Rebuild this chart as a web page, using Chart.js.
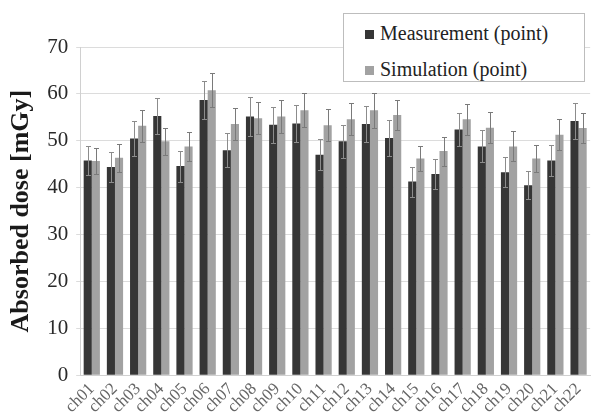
<!DOCTYPE html>
<html>
<head>
<meta charset="utf-8">
<script src="https://cdn.jsdelivr.net/npm/chart.js@4"></script>
<style>
  html, body { margin: 0; padding: 0; background: #fff; }
  #wrap { position: relative; width: 593px; height: 417px; }
  #legend {
    position: absolute; left: 343px; top: 13px; width: 242px; height: 69px;
    border: 1px solid #bdbdbd; background: #fff; box-sizing: border-box;
    font-family: "Liberation Serif", serif; font-size: 20px; color: #222;
  }
  .item { position: absolute; left: 21px; height: 24px; line-height: 24px; white-space: nowrap; }
  .sw { display: inline-block; width: 9px; height: 9px; margin-right: 6px; vertical-align: 1px; }
</style>
</head>
<body>
<div id="wrap">
  <canvas id="c" width="593" height="417"></canvas>
  <div id="legend">
    <div class="item" style="top:7px"><span class="sw" style="background:#363636"></span>Measurement (point)</div>
    <div class="item" style="top:43px"><span class="sw" style="background:#a2a2a2"></span>Simulation (point)</div>
  </div>
</div>
<script>
const categories = ["ch01","ch02","ch03","ch04","ch05","ch06","ch07","ch08","ch09","ch10","ch11",
                    "ch12","ch13","ch14","ch15","ch16","ch17","ch18","ch19","ch20","ch21","ch22"];
const measurement = [45.8,44.4,50.5,55.3,44.6,58.7,48.0,55.2,53.4,53.7,47.0,
                     49.9,53.6,50.6,41.3,42.9,52.4,48.8,43.3,40.5,45.8,54.2];
const simulation  = [45.7,46.4,53.2,49.9,48.8,60.8,53.6,54.8,55.2,56.5,53.3,
                     54.6,56.5,55.5,46.2,47.8,54.6,52.8,48.8,46.2,51.3,52.7];
const measurementErr = [3.0,3.2,3.8,3.9,3.3,4.1,3.6,4.1,3.8,3.9,3.3,
                        3.5,3.9,3.8,3.2,3.2,3.6,3.4,3.2,3.0,3.4,3.8];
const simulationErr  = [2.8,3.0,3.4,2.9,3.1,3.7,3.4,3.4,3.6,3.6,3.4,
                        3.4,3.7,3.3,2.7,3.1,3.3,3.3,3.2,2.9,3.3,3.2];
const yTicks = [0,10,20,30,40,50,60,70];

const errorBars = {
  id: 'errorBars',
  afterDatasetsDraw(chart) {
    const ctx = chart.ctx;
    const y = chart.scales.y;
    const errs = [measurementErr, simulationErr];
    ctx.save();
    ctx.lineWidth = 1;
    chart.data.datasets.forEach((ds, di) => {
      const meta = chart.getDatasetMeta(di);
      meta.data.forEach((bar, i) => {
        const v = ds.data[i], e = errs[di][i];
        const x = Math.round(bar.x) + 0.5;
        const yt = Math.round(y.getPixelForValue(v + e)) + 0.5;
        const yb = Math.round(y.getPixelForValue(v - e)) + 0.5;
        ctx.strokeStyle = di === 0 ? '#8c8c8c' : '#7a7a7a';
        ctx.beginPath();
        ctx.moveTo(x, yt); ctx.lineTo(x, yb);
        ctx.moveTo(x - 2.5, yt); ctx.lineTo(x + 2.5, yt);
        ctx.moveTo(x - 2.5, yb); ctx.lineTo(x + 2.5, yb);
        ctx.stroke();
      });
    });
    ctx.restore();
  }
};

new Chart(document.getElementById('c'), {
  type: 'bar',
  data: {
    labels: categories,
    datasets: [
      { label: 'Measurement (point)', data: measurement, backgroundColor: '#363636',
        categoryPercentage: 0.7, barPercentage: 1.0 },
      { label: 'Simulation (point)', data: simulation, backgroundColor: '#a2a2a2',
        categoryPercentage: 0.7, barPercentage: 1.0 }
    ]
  },
  options: {
    responsive: false,
    animation: false,
    layout: { padding: { left: 6, right: 0, top: 47, bottom: 0 } },
    plugins: { legend: { display: false }, tooltip: { enabled: false } },
    scales: {
      x: {
        grid: { display: false, drawTicks: true, tickLength: 4 },
        border: { display: true, color: '#d0d0d0' },
        ticks: {
          minRotation: 45, maxRotation: 45, autoSkip: false, padding: 0,
          color: '#666', font: { family: 'Liberation Serif', size: 17 }
        }
      },
      y: {
        min: 0, max: 70,
        afterBuildTicks(axis) { axis.ticks = yTicks.map(v => ({ value: v })); },
        grid: { color: '#dcdcdc', lineWidth: 1, tickLength: 4 },
        border: { display: true, color: '#d0d0d0' },
        ticks: {
          padding: 8, color: '#2a2a2a',
          font: { family: 'Liberation Serif', size: 21 }
        },
        title: {
          display: true, text: 'Absorbed dose [mGy]', color: '#1a1a1a',
          padding: { top: 0, bottom: 2 },
          font: { family: 'Liberation Serif', size: 26, weight: 'bold' }
        }
      }
    }
  },
  plugins: [errorBars]
});
</script>
</body>
</html>
